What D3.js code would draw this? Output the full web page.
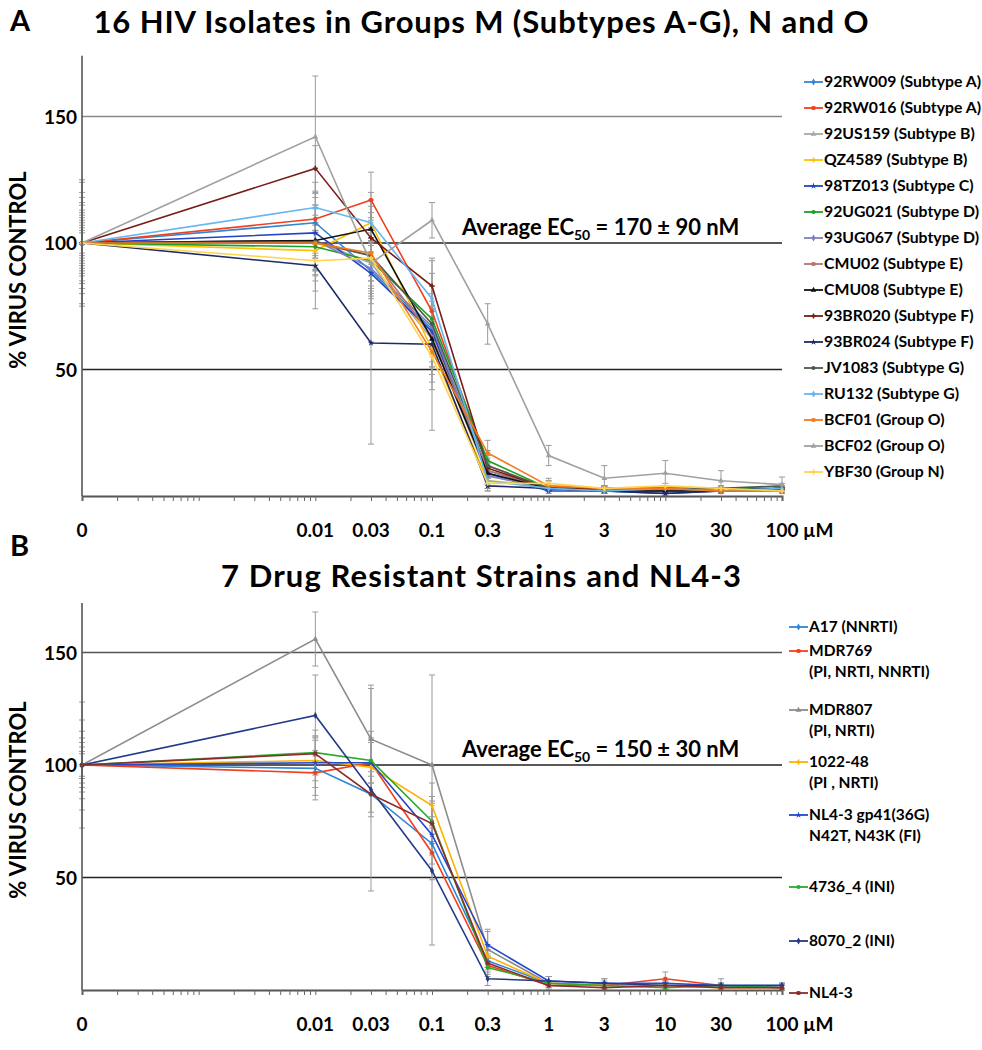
<!DOCTYPE html>
<html><head><meta charset="utf-8">
<script src="https://cdn.jsdelivr.net/npm/d3@7"></script>
<style>
body{margin:0;background:#fff;}
svg{display:block;font-family:Lato,'Open Sans',sans-serif;font-weight:700;}
</style>
</head><body>
<svg id="chart" width="982" height="1050"></svg>
<script>
// ---------- DATA ----------
const concentrations = [0, 0.01, 0.03, 0.1, 0.3, 1, 3, 10, 30, 100];
const tickLabels = ["0", "0.01", "0.03", "0.1", "0.3", "1", "3", "10", "30", "100"];
const yTicks = [50, 100, 150];

const titleA = "16 HIV Isolates in Groups M (Subtypes A-G), N and O";
const namesA = ["92RW009 (Subtype A)", "92RW016 (Subtype A)", "92US159 (Subtype B)", "QZ4589 (Subtype B)",
  "98TZ013 (Subtype C)", "92UG021 (Subtype D)", "93UG067 (Subtype D)", "CMU02 (Subtype E)",
  "CMU08 (Subtype E)", "93BR020 (Subtype F)", "93BR024 (Subtype F)", "JV1083 (Subtype G)",
  "RU132 (Subtype G)", "BCF01 (Group O)", "BCF02 (Group O)", "YBF30 (Group N)"];
const valuesA = [
  [100, 108, 89, 66, 10, 3, 3, 3, 2, 2],
  [100, 109.5, 117, 73, 12, 3, 2, 2, 2, 2],
  [100, 101, 92, 62, 8, 3, 2, 2, 2, 3],
  [100, 97, 108, 58, 6, 4, 3, 3, 2, 2],
  [100, 104, 88, 65, 9, 2, 2, 1, 2, 2],
  [100, 98.5, 93, 70, 14, 3, 3, 3, 3, 3],
  [100, 101, 90, 67, 8, 3, 2, 2, 2, 2],
  [100, 100, 95, 63, 10, 3, 3, 2, 2, 2],
  [100, 101, 105.5, 62, 9, 3, 2, 2, 2, 3],
  [100, 129.5, 102, 83, 11, 3, 3, 3, 2, 3],
  [100, 91, 60.5, 60, 4, 3, 2, 1, 2, 3],
  [100, 100.5, 95, 68, 12, 3, 2, 3, 3, 4],
  [100, 114, 108, 78, 6, 3, 2, 3, 2, 3],
  [100, 100, 96, 57, 17, 4, 3, 3, 2, 2],
  [100, 142, 92, 109, 68, 16, 7, 9, 6, 4.5],
  [100, 93, 94, 55, 5, 5, 3, 4, 3, 2]
];
const errorsA = [
  [10, 12, 10, 8, 3, 1, 1, 1, 1, 1],
  [8, 10, 11, 10, 4, 1, 1, 1, 1, 1],
  [15, 14, 12, 9, 3, 1, 1, 1, 1, 1],
  [6, 8, 9, 10, 3, 2, 1, 1, 1, 1],
  [12, 10, 12, 9, 2, 1, 1, 1, 1, 1],
  [5, 9, 8, 10, 4, 1, 1, 1, 1, 1],
  [9, 7, 12, 8, 3, 1, 1, 1, 1, 1],
  [7, 11, 14, 12, 3, 1, 1, 1, 1, 1],
  [18, 6, 9, 11, 3, 1, 1, 1, 1, 1],
  [13, 9, 15, 10, 4, 1, 1, 1, 1, 1],
  [20, 17, 40, 34, 2, 1, 1, 1, 1, 1],
  [11, 13, 10, 9, 5, 1, 1, 1, 1, 1],
  [16, 10, 12, 10, 3, 1, 1, 1, 1, 1],
  [24, 15, 14, 12, 5, 2, 1, 1, 1, 1],
  [25, 24, 20, 7, 8, 4, 5, 5, 4, 3],
  [4, 12, 11, 13, 3, 2, 1, 1, 1, 1]
];
const ec50A = "170 ± 90 nM";

const titleB = "7 Drug Resistant Strains and NL4-3";
const namesB = [["A17 (NNRTI)"], ["MDR769", "(PI, NRTI, NNRTI)"], ["MDR807", "(PI, NRTI)"], ["1022-48", "(PI , NRTI)"],
  ["NL4-3 gp41(36G)", "N42T, N43K (FI)"], ["4736_4 (INI)"], ["8070_2 (INI)"], ["NL4-3"]];
const valuesB = [
  [100, 98.5, 87, 65, 13, 3, 2, 2, 2, 2],
  [100, 96.5, 101, 61, 11, 2, 2, 5, 2, 1],
  [100, 156, 111.5, 100, 18, 3, 2, 2, 2, 1],
  [100, 102, 99, 82, 15, 3, 2, 2, 1, 1],
  [100, 101, 101, 69, 20, 4, 3, 3, 2, 2],
  [100, 105.5, 102, 75, 10, 3, 2, 1, 2, 1],
  [100, 122, 89, 53, 5, 4, 3, 2, 2, 2],
  [100, 105, 87, 74, 12, 2, 1, 2, 1, 1]
];
const errorsB = [
  [10, 14, 10, 9, 3, 1, 1, 1, 1, 1],
  [12, 10, 9, 12, 4, 1, 1, 3, 1, 1],
  [28, 12, 24, 40, 8, 3, 3, 2, 3, 2],
  [6, 9, 12, 10, 3, 1, 1, 1, 1, 1],
  [15, 11, 14, 8, 7, 2, 1, 1, 1, 1],
  [8, 10, 10, 9, 4, 1, 1, 1, 1, 1],
  [20, 18, 45, 33, 3, 2, 2, 1, 1, 1],
  [5, 8, 8, 9, 3, 1, 1, 1, 1, 1]
];
const ec50B = "150 ± 30 nM";

// ---------- STYLE ----------
const colorsA = ["#2f86d6", "#f0401e", "#a8a8a8", "#ffc000", "#2443c4", "#1e9e28", "#7d80b8", "#b57474",
  "#111111", "#7a1c16", "#1c2b66", "#4a5a4a", "#66b6f0", "#f47a20", "#a0a0a0", "#ffd34d"];
const colorsB = ["#2f86d6", "#f0401e", "#8c8c8c", "#ffb000", "#2448d0", "#2ea82e", "#233a88", "#8b2c2c"];
const symbolsSeq = [d3.symbolDiamond, d3.symbolSquare, d3.symbolTriangle, d3.symbolCross, d3.symbolStar, d3.symbolCircle];

const svg = d3.select("#chart");
const X0 = 82, X1 = 782;
const x = d3.scaleLog().domain([1e-4, 100]).range([X0, X1]);
const xp = c => x(c === 0 ? 1e-4 : c);

function panel(cfg) {
  const g = svg.append("g");
  const y = d3.scaleLinear().domain([0, cfg.yMax]).range([cfg.yBottom, cfg.yBottom - cfg.yMax * cfg.ppu]);

  // panel letter and title
  g.append("text").attr("x", 10).attr("y", cfg.letterY).attr("font-size", 29).text(cfg.letter);
  g.append("text").attr("x", 481).attr("y", cfg.titleY).attr("text-anchor", "middle")
    .attr("font-size", 31).attr("textLength", cfg.titleLen).attr("lengthAdjust", "spacing").text(cfg.title);

  // gridlines
  g.selectAll(".grid").data(yTicks).join("line")
    .attr("x1", X0).attr("x2", X1).attr("y1", d => y(d)).attr("y2", d => y(d))
    .attr("stroke", d => d === 150 ? cfg.grid150 : "#222").attr("stroke-width", 1.4);
  // y tick labels
  g.selectAll(".ylab").data(yTicks).join("text")
    .attr("x", 77).attr("y", d => y(d) + 7).attr("text-anchor", "end").attr("font-size", 19).text(d => d);
  // y axis label
  g.append("text").attr("transform", `translate(26,${cfg.ylabelY}) rotate(-90)`)
    .attr("text-anchor", "middle").attr("font-size", 22).text("% VIRUS CONTROL");

  // error bars
  cfg.values.forEach((vals, i) => {
    const eg = g.append("g").attr("stroke", "#9a9a9a").attr("stroke-width", 1);
    vals.forEach((v, j) => {
      const e = cfg.errors[i][j];
      if (!e) return;
      const cx = xp(concentrations[j]);
      const top = y(Math.min(v + e, cfg.yMax)), bot = y(Math.max(v - e, 0));
      eg.append("line").attr("x1", cx).attr("x2", cx).attr("y1", top).attr("y2", bot);
      eg.append("line").attr("x1", cx - 3).attr("x2", cx + 3).attr("y1", top).attr("y2", top);
      eg.append("line").attr("x1", cx - 3).attr("x2", cx + 3).attr("y1", bot).attr("y2", bot);
    });
  });

  // lines
  const line = d3.line().x((d, j) => xp(concentrations[j])).y(d => y(d));
  cfg.values.forEach((vals, i) => {
    g.append("path").datum(vals).attr("d", line).attr("fill", "none")
      .attr("stroke", cfg.colors[i]).attr("stroke-width", 1.6);
    g.selectAll(null).data(vals).join("path")
      .attr("transform", (d, j) => `translate(${xp(concentrations[j])},${y(d)})`)
      .attr("d", d3.symbol().type(symbolsSeq[i % symbolsSeq.length]).size(14))
      .attr("fill", cfg.colors[i]);
  });

  // axes
  g.append("line").attr("x1", X0).attr("x2", X0).attr("y1", cfg.yBottom).attr("y2", y(cfg.yMax))
    .attr("stroke", "#555").attr("stroke-width", 1.6);
  const xAxis = d3.axisBottom(x).tickValues(d3.range(-4, 3).flatMap(k => d3.range(1, 10).map(m => m * Math.pow(10, k))).filter(v => v <= 100))
    .tickSize(5).tickFormat("");
  const ax = g.append("g").attr("transform", `translate(0,${cfg.yBottom})`).call(xAxis);
  ax.select(".domain").attr("stroke", "#555").attr("stroke-width", 2);
  ax.selectAll(".tick line").attr("stroke", "#666");
  // x tick labels
  g.selectAll(".xlab").data(concentrations).join("text")
    .attr("x", d => xp(d)).attr("y", cfg.yBottom + 41).attr("text-anchor", "middle").attr("font-size", 19)
    .text((d, j) => tickLabels[j]);
  g.append("text").attr("x", X1 + 21).attr("y", cfg.yBottom + 41).attr("font-size", 19).text("µM");

  // EC50 annotation
  const t = g.append("text").attr("x", 462).attr("y", y(100) - 8).attr("font-size", 22);
  t.append("tspan").text("Average EC");
  t.append("tspan").attr("font-size", 14).attr("dy", 5).text("50");
  t.append("tspan").attr("dy", -5).text(" = " + cfg.ec50);

  // legend
  cfg.legendRows.forEach((row, i) => {
    const lg = g.append("g").attr("transform", `translate(${cfg.legX},${row})`);
    lg.append("line").attr("x1", 0).attr("x2", 19).attr("y1", 0).attr("y2", 0)
      .attr("stroke", cfg.colors[i]).attr("stroke-width", 1.8);
    lg.append("path").attr("transform", "translate(9.5,0)")
      .attr("d", d3.symbol().type(symbolsSeq[i % symbolsSeq.length]).size(14)).attr("fill", cfg.colors[i]);
    const lines = Array.isArray(cfg.names[i]) ? cfg.names[i] : [cfg.names[i]];
    lines.forEach((s, k) => {
      lg.append("text").attr("x", 20).attr("y", 5 + k * 21).attr("font-size", cfg.legFont).text(s);
    });
  });
}

panel({
  letter: "A", letterY: 31, title: titleA, titleY: 33, titleLen: 775,
  yBottom: 496, ppu: 2.53, yMax: 174, ylabelY: 270, grid150: "#888",
  values: valuesA, errors: errorsA, colors: colorsA, names: namesA, ec50: ec50A,
  legX: 804, legFont: 15.8, legendRows: d3.range(16).map(i => 82 + i * 26)
});
panel({
  letter: "B", letterY: 556, title: titleB, titleY: 587, titleLen: 520,
  yBottom: 990, ppu: 2.25, yMax: 172, ylabelY: 800, grid150: "#555",
  values: valuesB, errors: errorsB, colors: colorsB, names: namesB, ec50: ec50B,
  legX: 789, legFont: 15.5, legendRows: [627, 651, 710, 762, 815, 887, 941, 993]
});
</script>
</body></html>
